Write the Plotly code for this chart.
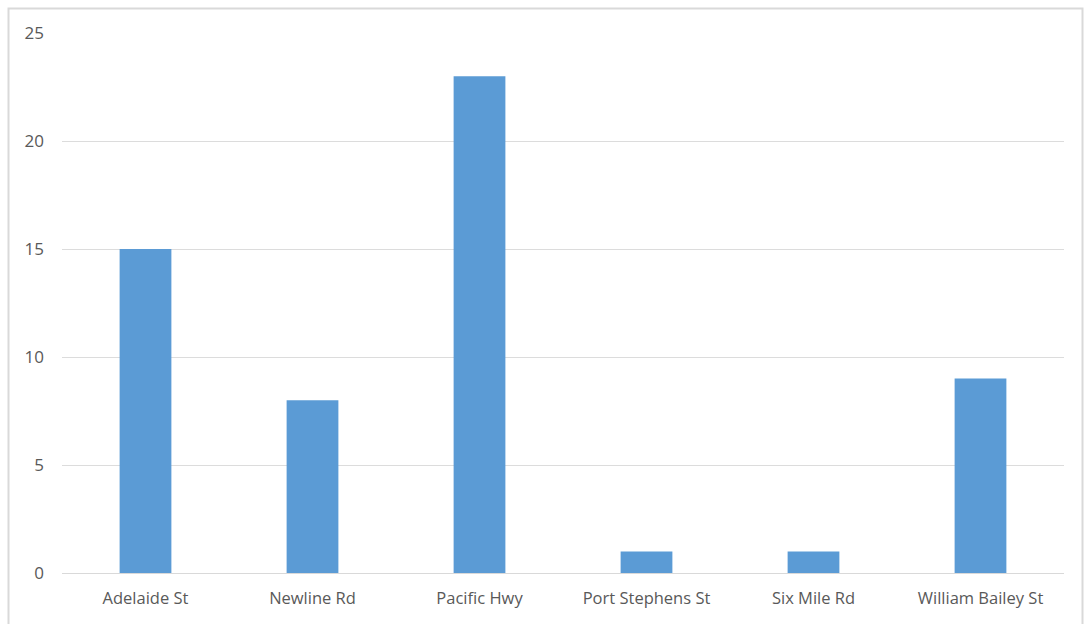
import plotly.graph_objects as go

streets = ["Adelaide St", "Newline Rd", "Pacific Hwy", "Port Stephens St", "Six Mile Rd", "William Bailey St"]
counts = [15, 8, 23, 1, 1, 9]
y_ticks = [0, 5, 10, 15, 20, 25]

W, H = 1086, 624
L, R, T, B = 62, 22, 33, 51  # plot area: x 62..1064, y 33..573

fig = go.Figure(go.Bar(
    x=streets, y=counts,
    marker=dict(color="#5b9bd5", line=dict(width=0)),
    hoverinfo="x+y",
))

pw = W - L - R
ph = H - T - B

def px_x(p):
    return (p - L) / pw

def px_y(p):
    return (H - B - p) / ph

fig.update_layout(
    width=W, height=H,
    margin=dict(l=L, r=R, t=T, b=B),
    paper_bgcolor="white", plot_bgcolor="white",
    bargap=0.69,
    showlegend=False,
    font=dict(family="Open Sans, Liberation Sans, sans-serif", size=16, color="#595959"),
    xaxis=dict(
        type="category", showgrid=False, zeroline=False,
        showline=True, linecolor="#d9d9d9", linewidth=1,
        ticks="", ticklabelstandoff=10,
        tickfont=dict(size=16.5, color="#595959"),
    ),
    yaxis=dict(
        range=[0, 25], tickvals=y_ticks, showgrid=True,
        gridcolor="#dcdcdc", gridwidth=1, zeroline=False,
        showline=False, ticks="", ticklabelstandoff=17,
        tickfont=dict(size=17, color="#595959"),
    ),
    shapes=[dict(
        type="rect", xref="paper", yref="paper",
        x0=px_x(8.5), x1=px_x(1082.5), y0=px_y(640), y1=px_y(8.5),
        line=dict(color="#d9d9d9", width=2), fillcolor="rgba(0,0,0,0)",
        layer="below",
    )],
)

fig.write_html("out.html")
